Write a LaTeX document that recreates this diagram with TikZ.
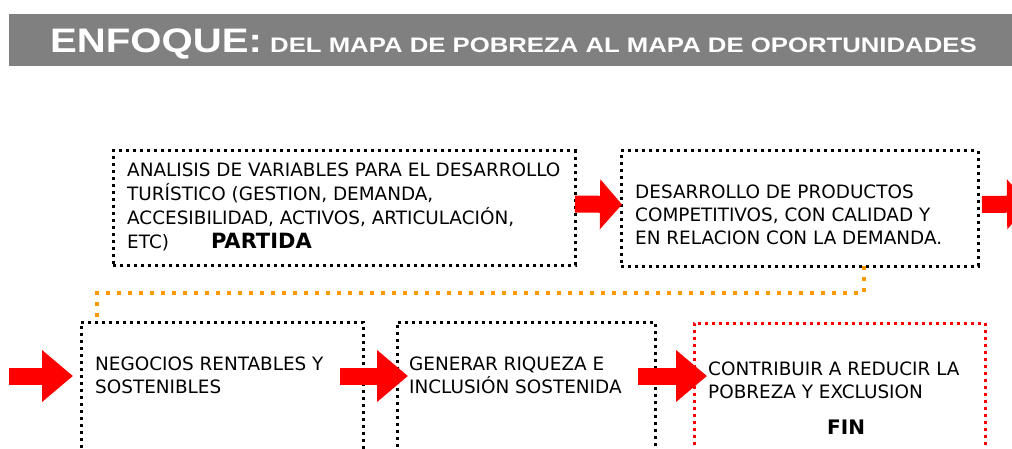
\documentclass[tikz,border=0pt]{standalone}
\usepackage{fontspec}
\setmainfont{DejaVu Sans}
\newfontfamily\headfont{Liberation Sans}
\usetikzlibrary{calc,arrows.meta}
\definecolor{bargray}{HTML}{808080}
\definecolor{linkorange}{HTML}{FF9900}
\tikzset{>=Stealth,
  dotbox/.style={draw, line width=3pt, dash pattern=on 3pt off 4pt,
    anchor=north west, inner sep=0pt, outer sep=0pt},
  finbox/.style={dotbox, draw=red},
  boxtext/.style={anchor=north west, inner sep=0pt, align=left,
    font=\fontsize{18.4}{23}\selectfont},
  bigarrow/.style={draw=red, line width=17pt, -{Triangle[length=31pt,width=50pt]}},
  linkdots/.style={draw=linkorange, line width=4pt, dash pattern=on 4pt off 7pt},
}

\begin{document}
\begin{tikzpicture}[x=1pt,y=-1pt]
\useasboundingbox (0,0) rectangle (1012,449);
\clip (0,0) rectangle (1012,449);
% title bar
\node[fill=bargray, anchor=north west, inner sep=0pt, outer sep=0pt,
  minimum width=1003pt, minimum height=52pt] (bar) at (9,14) {};
\node[anchor=base west, inner sep=0pt, text=white,
  font=\headfont\bfseries\fontsize{34}{34}\selectfont] (head) at (50,53)
  {\scalebox{1.18}[1]{ENFOQUE:}};
\node[anchor=base west, inner sep=0pt, text=white,
  font=\headfont\bfseries\fontsize{21}{21}\selectfont] (subhead) at (270,53)
  {\scalebox{1.225}[1]{DEL MAPA DE POBREZA AL MAPA DE OPORTUNIDADES}};
% first row
\node[dotbox, minimum width=462pt, minimum height=114pt] (box1) at (113,151) {};
\node[boxtext, font=\fontsize{18.4}{24}\selectfont] (txt1) at (127,163)
  {ANALISIS DE VARIABLES PARA EL DESARROLLO\\
   TURÍSTICO (GESTION, DEMANDA,\\
   ACCESIBILIDAD, ACTIVOS, ARTICULACIÓN,\\
   ETC)\hspace{42pt}{\bfseries\fontsize{21}{24}\selectfont PARTIDA}};
\node[dotbox, minimum width=357pt, minimum height=115pt] (box2) at (621,151) {};
\node[boxtext] (txt2) at (635,185)
  {DESARROLLO DE PRODUCTOS\\
   COMPETITIVOS, CON CALIDAD Y\\
   EN RELACION CON LA DEMANDA.};
\coordinate (out) at (1029,204);
% second row
\node[dotbox, minimum width=282pt, minimum height=160pt] (box3) at (81,322) {};
\node[boxtext] (txt3) at (95,357) {NEGOCIOS RENTABLES Y\\ SOSTENIBLES};
\node[dotbox, minimum width=258pt, minimum height=160pt] (box4) at (397,322) {};
\node[boxtext] (txt4) at (409,357) {GENERAR RIQUEZA E\\ INCLUSIÓN SOSTENIDA};
\node[finbox, minimum width=291pt, minimum height=160pt] (box5) at (694,323) {};
\node[boxtext] (txt5) at (708,362) {CONTRIBUIR A REDUCIR LA\\ POBREZA Y EXCLUSION};
\node[anchor=north west, inner sep=0pt,
  font=\bfseries\fontsize{20}{24}\selectfont] (fin) at (827,420) {FIN};
\coordinate (in) at (9,376);
% arrows
\draw[bigarrow, -{Triangle[length=22pt,width=49pt]}]
  ($(box1.east)+(0,-4)$) -- ($(box2.west)+(1,-4)$);
\draw[bigarrow, -{Triangle[length=22pt,width=49pt]}]
  ($(box2.east)+(4,-4)$) -- (out);
\draw[bigarrow] (in) -- ($(box3.north west)+(-8,54)$);
\draw[bigarrow] ($(box3.north east)+(-23,54)$) -- ($(box4.north west)+(11,54)$);
\draw[bigarrow] ($(box4.north east)+(-17,54)$) -- ($(box5.north west)+(13,53)$);
% link back to second row
\draw[linkdots] ($(box2.south east)!0.32!(box2.south west)$) -- ++(0,27)
  -| ($(box3.north west)+(16,0)$);
\end{tikzpicture}
\end{document}
